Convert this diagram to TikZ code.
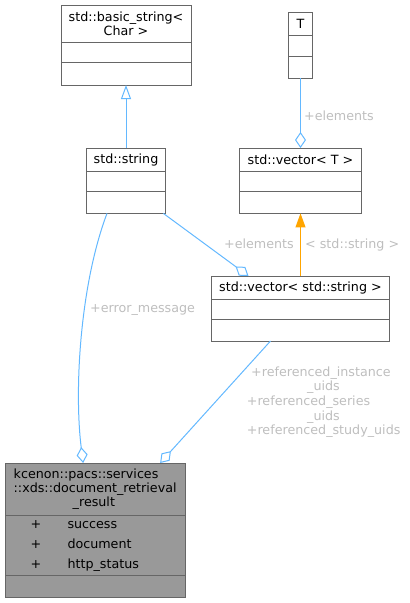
\documentclass[tikz,border=0pt]{standalone}
\usepackage{fontspec}
\setmainfont{DejaVu Sans}
\usetikzlibrary{arrows.meta,positioning}
\definecolor{edgeblue}{HTML}{63B8FF}
\definecolor{tmplorange}{HTML}{FFA500}
\definecolor{boxline}{HTML}{666666}
\definecolor{boxfill}{HTML}{999999}
\definecolor{lblgrey}{HTML}{BEBEBE}

\begin{document}
\begin{tikzpicture}[x=1pt,y=-1pt]

\tikzset{cls/.style={
  rectangle,
  inner sep=0pt, outer sep=0pt,
  align=center,
  draw=boxline, fill=white,
  line width=1pt,
  font=\fontsize{12.7}{14.3}\selectfont
  }}
\tikzset{lbl/.style={text=lblgrey, inner sep=0pt, align=left,
  font=\fontsize{12.7}{14.7}\selectfont}}
\tikzset{attr/.style={inner sep=0pt, font=\fontsize{12.7}{14.3}\selectfont}}
\tikzset{aggr/.style={draw=edgeblue, line width=1pt, -{Diamond[open,length=16pt,width=11pt]}}}
\tikzset{inh/.style={draw=edgeblue, line width=1pt, -{Triangle[open,length=14pt,width=10pt]}}}
\tikzset{tmpl/.style={draw=tmplorange, line width=1pt, -{Triangle[length=14pt,width=10pt]}}}

\useasboundingbox (0,0) rectangle (410,603);

% classes
\node[cls, minimum width=130, minimum height=37.3] (bstr) at (126,23.65) {std::basic\_string<\\Char >};
\node[cls, minimum width=130, minimum height=20, below=0pt of bstr] (bstr1) {};
\node[cls, minimum width=130, minimum height=22.7, below=0pt of bstr1] (bstr2) {};

\node[cls, minimum width=23.3, minimum height=22.7] (T) at (300.5,24) {T};
\node[cls, minimum width=23.3, minimum height=20.7, below=0pt of T] (T1) {};
\node[cls, minimum width=23.3, minimum height=22, below=0pt of T1] (T2) {};

\node[cls, minimum width=78.7, minimum height=23.7] (str) at (126,159.85) {std::string};
\node[cls, minimum width=78.7, minimum height=20, below=0pt of str] (str1) {};
\node[cls, minimum width=78.7, minimum height=21.7, below=0pt of str1] (str2) {};

\node[cls, minimum width=121.7, minimum height=23.7] (vecT) at (300.5,159.85) {std::vector< T >};
\node[cls, minimum width=121.7, minimum height=20, below=0pt of vecT] (vecT1) {};
\node[cls, minimum width=121.7, minimum height=21.7, below=0pt of vecT1] (vecT2) {};

\node[cls, minimum width=178, minimum height=23.3] (vecS) at (300.5,287.65) {std::vector< std::string >};
\node[cls, minimum width=178, minimum height=20, below=0pt of vecS] (vecS1) {};
\node[cls, minimum width=178, minimum height=21.7, below=0pt of vecS1] (vecS2) {};

\node[cls, align=left, fill=boxfill, minimum width=180.3, minimum height=52.3] (res) at (95.15,489.15) {kcenon::pacs::services\\::xds::document\_retrieval\\\hspace*{59pt}\_result};
\node[cls, fill=boxfill, minimum width=180.3, minimum height=60, below=0pt of res] (res1) {};
\node[cls, fill=boxfill, minimum width=180.3, minimum height=21.7, below=0pt of res1] (res2) {};

% members
\node[attr, anchor=base] (plus1) at (36,528.7) {+};
\node[attr, anchor=base west] (success) at (67.3,528.7) {success};
\node[attr, anchor=base] (plus2) at (36,548.7) {+};
\node[attr, anchor=base west] (document) at (67.3,548.7) {document};
\node[attr, anchor=base] (plus3) at (36,568.7) {+};
\node[attr, anchor=base west] (httpstatus) at (67.3,568.7) {http\_status};

% relations
\path[inh] (str) -- (bstr2);
\path[aggr] (T2) -- (vecT);
\path[tmpl] (vecS) -- (vecT2);
\path[aggr] ([xshift=-2pt]str2.south east) -- ([xshift=37pt]vecS.north west);
\path[aggr] ([xshift=-19pt]str2.south) .. controls (80,285) and (74,390) .. ([xshift=-12pt]res.north);
\path[aggr] ([xshift=-30pt]vecS2.south) -- ([xshift=65pt]res.north);

% edge labels
\node[lbl, anchor=base west] (elemT) at (304,120) {+elements};
\node[lbl, anchor=base east] (elemS) at (294,248.3) {+elements};
\node[lbl, anchor=base west] (tmplarg) at (305,248.3) {< std::string >};
\node[lbl, anchor=base west] (errmsg) at (90,312) {+error\_message};
\node[lbl, anchor=base west] (refuids) at (246.7,434.8) {\hspace*{4.3pt}+referenced\_instance\\\hspace*{60.3pt}\_uids\\+referenced\_series\\\hspace*{60.3pt}\_uids\\+referenced\_study\_uids};

\end{tikzpicture}
\end{document}
